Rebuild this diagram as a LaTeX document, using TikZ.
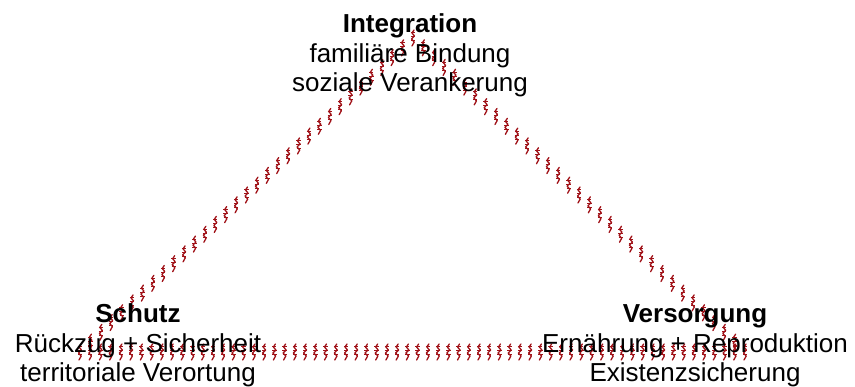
\documentclass[tikz,border=0pt]{standalone}
\usepackage{fontspec}
\setmainfont{Liberation Sans}
\usetikzlibrary{calc}
\definecolor{markred}{HTML}{A01218}
\begin{document}
\begin{tikzpicture}[x=1pt,y=-1pt,
  title/.style={font=\fontsize{26}{30}\selectfont\bfseries, anchor=base, inner sep=0pt},
  desc/.style={font=\fontsize{26}{30}\selectfont, anchor=base, inner sep=0pt},
  squig/.pic={
    \draw[markred, line width=1.3pt, line cap=round, line join=round]
      (1,-8) -- (-1,-5) -- (1.5,-2) -- (-1.5,1) -- (1.2,4) -- (-1,8);
    \draw[markred, line width=1pt]
      (-2.2,-5) -- (2,-5) (-2.2,-1) -- (2.2,-1) (-2,3) -- (2.2,3);
  }]
\useasboundingbox (0,0) rectangle (855,387);

% corners of the triangle
\coordinate (top) at (413,38);
\coordinate (left) at (80,352);
\coordinate (right) at (745,352);

% edges made of small upright squiggles
\foreach \i in {0,...,32}
  \pic at ($(left)!\i/32!(top)$) {squig};
\foreach \i in {1,...,32}
  \pic at ($(top)!\i/32!(right)$) {squig};
\foreach \i in {1,...,64}
  \pic at ($(left)!\i/65!(right)$) {squig};

% labels at the three corners
\node[title] (integ)  at (410,33) {Integration};
\node[desc]  (intega) at (410,63) {familiäre Bindung};
\node[desc]  (integb) at (410,92) {soziale Verankerung};

\node[title] (schutz)  at (138,323) {Schutz};
\node[desc]  (schutza) at (138,353) {Rückzug + Sicherheit};
\node[desc]  (schutzb) at (138,382) {territoriale Verortung};

\node[title] (vers)  at (695,323) {Versorgung};
\node[desc]  (versa) at (695,353) {Ernährung + Reproduktion};
\node[desc]  (versb) at (695,382) {Existenzsicherung};
\end{tikzpicture}
\end{document}
